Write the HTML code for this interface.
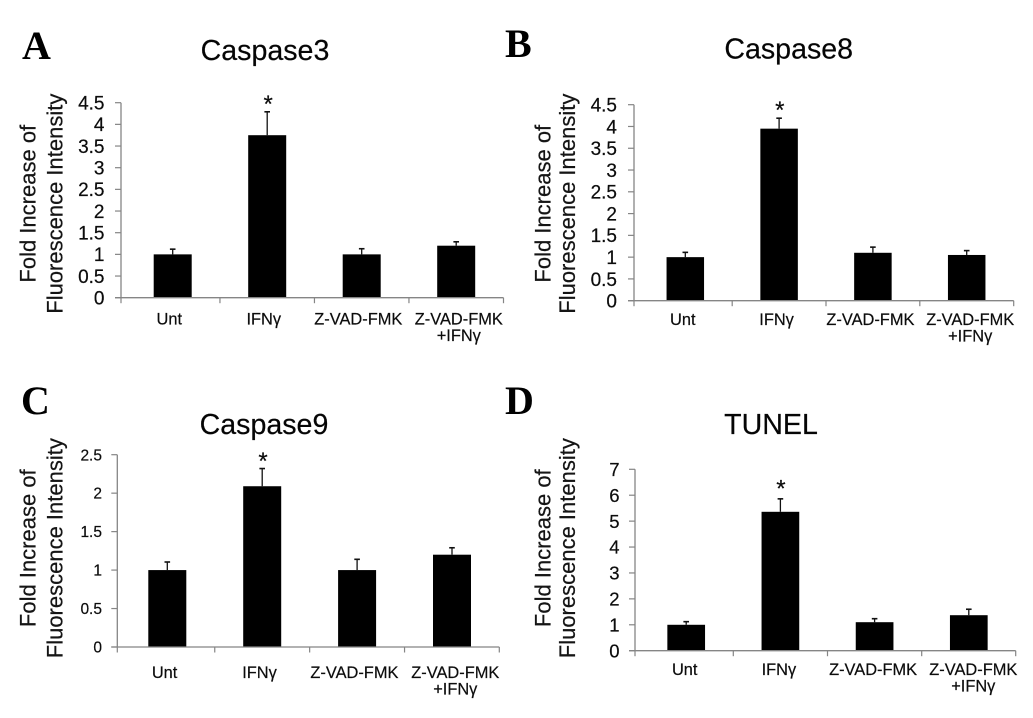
<!DOCTYPE html>
<html lang="en">
<head>
<meta charset="utf-8">
<title>Caspase and TUNEL fold increase charts</title>
<style>
html, body { margin: 0; padding: 0; background: #fff; }
svg { display: block; }
text { font-family: "Liberation Sans", sans-serif; fill: #0c0c0c; stroke: #0c0c0c; stroke-width: 0.2; }
.letter { font-family: "Liberation Serif", serif; font-weight: bold; font-size: 40px; fill: #000; stroke: none; }
.title { font-size: 28.6px; text-anchor: middle; fill: #050505; }
.ytitle { font-size: 22px; text-anchor: middle; fill: #151515; }
</style>
</head>
<body>
<svg id="figure" xmlns="http://www.w3.org/2000/svg" width="1033" height="718" viewBox="0 0 1033 718">
  <rect x="0" y="0" width="1033" height="718" fill="#ffffff"/>

  <g id="panel-a">
    <text class="letter" x="22" y="59">A</text>
    <text class="title" x="265" y="60">Caspase3</text>
    <text class="ytitle" transform="translate(35.7 203.7) rotate(-90)">Fold Increase of</text>
    <text class="ytitle" transform="translate(62.3 203.7) rotate(-90)">Fluorescence Intensity</text>
  </g>
  <g id="panel-b">
    <text class="letter" x="505" y="57">B</text>
    <text class="title" x="788.7" y="58.3">Caspase8</text>
    <text class="ytitle" transform="translate(550.3 203.7) rotate(-90)">Fold Increase of</text>
    <text class="ytitle" transform="translate(575 203.7) rotate(-90)">Fluorescence Intensity</text>
  </g>
  <g id="panel-c">
    <text class="letter" x="21" y="414">C</text>
    <text class="title" x="264" y="434">Caspase9</text>
    <text class="ytitle" transform="translate(35.7 548.2) rotate(-90)">Fold Increase of</text>
    <text class="ytitle" transform="translate(62.3 548.2) rotate(-90)">Fluorescence Intensity</text>
  </g>
  <g id="panel-d">
    <text class="letter" x="505" y="414">D</text>
    <text class="title" x="771" y="434">TUNEL</text>
    <text class="ytitle" transform="translate(550.3 548.2) rotate(-90)">Fold Increase of</text>
    <text class="ytitle" transform="translate(575 548.2) rotate(-90)">Fluorescence Intensity</text>
  </g>
</svg>

<script>
const categories = ['Unt', 'IFNγ', 'Z-VAD-FMK', 'Z-VAD-FMK\n+IFNγ'];
const significant = [false, true, false, false];

const caspase3Ticks = ['0', '0.5', '1', '1.5', '2', '2.5', '3', '3.5', '4', '4.5'];
const caspase3Values = [1, 3.75, 1, 1.2];
const caspase3ErrorTops = [1.12, 4.29, 1.13, 1.29];

const caspase8Ticks = ['0', '0.5', '1', '1.5', '2', '2.5', '3', '3.5', '4', '4.5'];
const caspase8Values = [1, 3.95, 1.1, 1.05];
const caspase8ErrorTops = [1.11, 4.19, 1.23, 1.15];

const caspase9Ticks = ['0', '0.5', '1', '1.5', '2', '2.5'];
const caspase9Values = [1, 2.09, 1, 1.2];
const caspase9ErrorTops = [1.105, 2.32, 1.14, 1.29];

const tunelTicks = ['0', '1', '2', '3', '4', '5', '6', '7'];
const tunelValues = [1, 5.36, 1.1, 1.37];
const tunelErrorTops = [1.12, 5.86, 1.235, 1.6];

const SVG_NS = 'http://www.w3.org/2000/svg';
const AXIS_COLOR = '#858585';

function make(parent, tag, props) {
  const el = document.createElementNS(SVG_NS, tag);
  for (const key in props) {
    el.setAttribute(key, props[key]);
  }
  parent.appendChild(el);
  return el;
}

function drawChart(panel, values, errorTops, ticks, layout) {
  const maxTick = parseFloat(ticks[ticks.length - 1]);
  const yScale = function (v) {
    return layout.y0 - (v / maxTick) * (layout.y0 - layout.yTop);
  };
  const barCenter = function (i) {
    return layout.firstCenter + i * layout.step;
  };
  const last = categories.length - 1;

  values.forEach(function (value, i) {
    const cx = barCenter(i);

    const whisker = make(panel, 'line', {
      x1: cx, x2: cx, y1: yScale(value), y2: yScale(errorTops[i]),
      stroke: '#111', 'stroke-width': 1.3
    });
    
    

    const cap = make(panel, 'line', {
      x1: cx - 2.8, x2: cx + 2.8, y1: yScale(errorTops[i]), y2: yScale(errorTops[i]),
      stroke: '#111', 'stroke-width': 1.6
    });
    
    

    const bar = make(panel, 'rect', {
      x: cx - layout.barWidth / 2, y: yScale(value),
      width: layout.barWidth, height: layout.y0 - yScale(value),
      fill: '#000'
    });
    
    

    if (significant[i]) {
      const star = make(panel, 'text', {
        x: cx + layout.starShift, y: yScale(errorTops[i]) - layout.starGap,
        'text-anchor': 'middle', 'font-size': 24
      });
      star.textContent = '*';
      
      
    }
  });

  const yAxis = make(panel, 'line', {
    x1: layout.x0, x2: layout.x0, y1: layout.yTop, y2: layout.y0,
    stroke: AXIS_COLOR, 'stroke-width': 1.3
  });
  
  

  const xAxis = make(panel, 'line', {
    x1: layout.x0 - 6, x2: layout.xEnd, y1: layout.y0, y2: layout.y0,
    stroke: AXIS_COLOR, 'stroke-width': 1.3
  });
  
  

  ticks.forEach(function (label) {
    const y = yScale(parseFloat(label));

    const tick = make(panel, 'line', {
      x1: layout.x0 - 6, x2: layout.x0, y1: y, y2: y,
      stroke: AXIS_COLOR, 'stroke-width': 1.2
    });
    
    

    const text = make(panel, 'text', {
      x: layout.tickRight, y: y + layout.tickFont * 0.36,
      'text-anchor': 'end', 'font-size': layout.tickFont
    });
    text.textContent = label;
    
    
  });

  for (let i = 0; i <= categories.length; i++) {
    let x = barCenter(i) - layout.step / 2;
    if (i === 0) { x = layout.x0; }
    if (i === categories.length) { x = layout.xEnd; }
    const tick = make(panel, 'line', {
      x1: x, x2: x, y1: layout.y0, y2: layout.y0 + 5.5,
      stroke: AXIS_COLOR, 'stroke-width': 1.2
    });
    
    
  }

  categories.forEach(function (category, i) {
    const x = barCenter(i) + layout.labelShift + (i === last ? 6 : 0);
    const text = make(panel, 'text', {
      y: layout.labelY, 'text-anchor': 'middle', 'font-size': 16.4
    });
    
    
    category.split('\n').forEach(function (line, n) {
      const span = make(text, 'tspan', { x: x, y: layout.labelY + n * 16.5 });
      span.textContent = line;
    });
  });
}

drawChart(document.getElementById('panel-a'), caspase3Values, caspase3ErrorTops, caspase3Ticks, {
  x0: 121, xEnd: 503.5, y0: 297.7, yTop: 102.7, firstCenter: 172.7, step: 94.5, barWidth: 38,
  tickRight: 104.5, tickFont: 19, labelY: 324.3, labelShift: -3.4, starGap: 0, starShift: 1
});
drawChart(document.getElementById('panel-b'), caspase8Values, caspase8ErrorTops, caspase8Ticks, {
  x0: 634, xEnd: 1013.7, y0: 300.7, yTop: 104.7, firstCenter: 685.3, step: 93.8, barWidth: 37.5,
  tickRight: 617, tickFont: 19, labelY: 325, labelShift: -2.5, starGap: 0.4, starShift: 0.7
});
drawChart(document.getElementById('panel-c'), caspase9Values, caspase9ErrorTops, caspase9Ticks, {
  x0: 117.3, xEnd: 499.3, y0: 647, yTop: 454.7, firstCenter: 167.3, step: 94.9, barWidth: 38,
  tickRight: 102, tickFont: 15.5, labelY: 678, labelShift: -2.7, starGap: -0.3, starShift: 0.8
});
drawChart(document.getElementById('panel-d'), tunelValues, tunelErrorTops, tunelTicks, {
  x0: 635, xEnd: 1015.7, y0: 650.7, yTop: 469.3, firstCenter: 686.2, step: 94.2, barWidth: 37.7,
  tickRight: 619.5, tickFont: 18.5, labelY: 675, labelShift: -1.5, starGap: 2.4, starShift: 0.5
});
</script>
</body>
</html>
